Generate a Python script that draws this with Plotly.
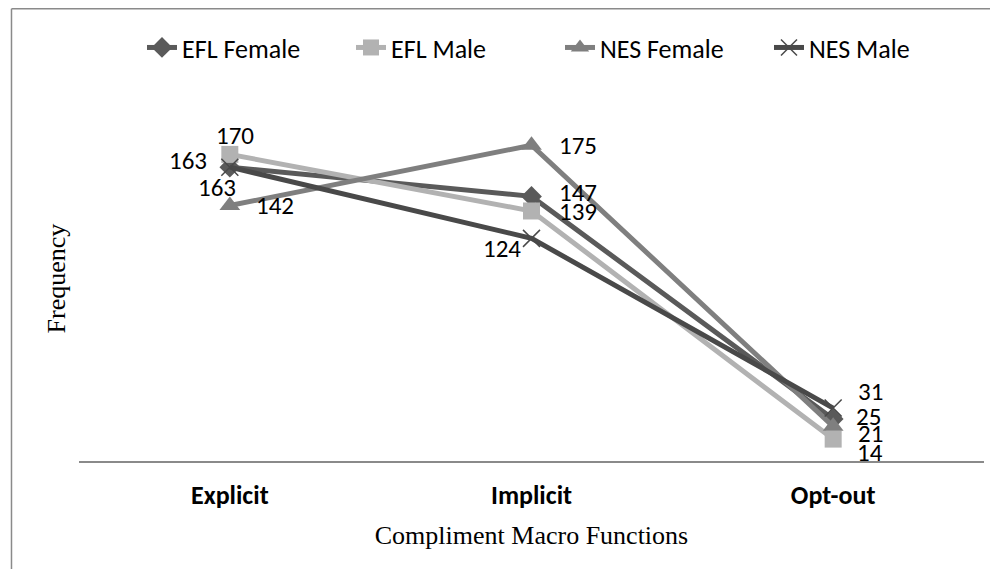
import plotly.graph_objects as go

categories = ["Explicit", "Implicit", "Opt-out"]
series_names = ["EFL Female", "EFL Male", "NES Female", "NES Male"]
efl_female = [163, 147, 25]
efl_male = [170, 139, 14]
nes_female = [142, 175, 21]
nes_male = [163, 124, 31]

values = [efl_female, efl_male, nes_female, nes_male]
colors = ["#5a5a5a", "#b2b2b2", "#7f7f7f", "#494949"]
symbols = ["diamond", "square", "triangle-up", "x-thin"]
sizes = [16, 17, 18, 17]
# label offsets (pixels, dx right, dy down) relative to each point
label_offsets = [
    [(-13, 20), (46, -4), (35, -3)],
    [(5, -19), (46, 1), (37, 13)],
    [(45, 0), (46, 0), (37, 7)],
    [(-42, -7), (-30, 10), (37, -17)],
]

LABEL_FONT = "Carlito, Lato, sans-serif"
SERIF = "Liberation Serif, Times New Roman, serif"

fig = go.Figure()
for name, vals, c, s, sz in zip(series_names, values, colors, symbols, sizes):
    marker = dict(symbol=s, size=sz, color=c)
    if s == "x-thin":
        marker["line"] = dict(color=c, width=1.5)
    fig.add_trace(go.Scatter(
        x=categories, y=vals, name=name, mode="lines+markers",
        line=dict(color=c, width=5), marker=marker, cliponaxis=False,
    ))

for vals, offs in zip(values, label_offsets):
    for cat, v, (dx, dy) in zip(categories, vals, offs):
        fig.add_annotation(x=cat, y=v, text=str(v), showarrow=False,
                           xshift=dx, yshift=-dy, xanchor="center", yanchor="middle",
                           font=dict(family=LABEL_FONT, size=25, color="#000000"))

# outer frame lines (left and top)
fig.add_shape(type="line", xref="paper", yref="paper",
              x0=-0.0746, x1=-0.0746, y0=1.239, y1=-0.33,
              line=dict(color="#8a8a8a", width=1.5))
fig.add_shape(type="line", xref="paper", yref="paper",
              x0=-0.0746, x1=1.02, y0=1.239, y1=1.239,
              line=dict(color="#8a8a8a", width=1.5))

fig.update_layout(
    width=982, height=561,
    margin=dict(l=71, r=6, t=88, b=108),
    paper_bgcolor="white", plot_bgcolor="white",
    showlegend=True,
    legend=dict(orientation="h", x=0.0696, y=1.1327, xanchor="left", yanchor="middle",
                font=dict(family=LABEL_FONT, size=26, color="#000000"),
                itemwidth=30, tracegroupgap=0, bgcolor="rgba(0,0,0,0)",
                entrywidth=164, entrywidthmode="pixels"),
    xaxis=dict(type="category", range=[-0.5, 2.5], showgrid=False, zeroline=False,
               showline=True, linecolor="#8a8a8a", linewidth=1.5,
               ticks="", ticklabelstandoff=10, automargin=False,
               tickfont=dict(family=LABEL_FONT, size=26, color="#000000", weight="bold"),
               title=dict(text="Compliment Macro Functions", standoff=16,
                          font=dict(family=SERIF, size=26, color="#000000"))),
    yaxis=dict(range=[2, 202], showgrid=False, zeroline=False, showline=False,
               showticklabels=False, ticks="", automargin=False,
               title=dict(text="Frequency", standoff=4,
                          font=dict(family=SERIF, size=26, color="#000000"))),
)

fig.write_html("out.html", config={"displayModeBar": False})
